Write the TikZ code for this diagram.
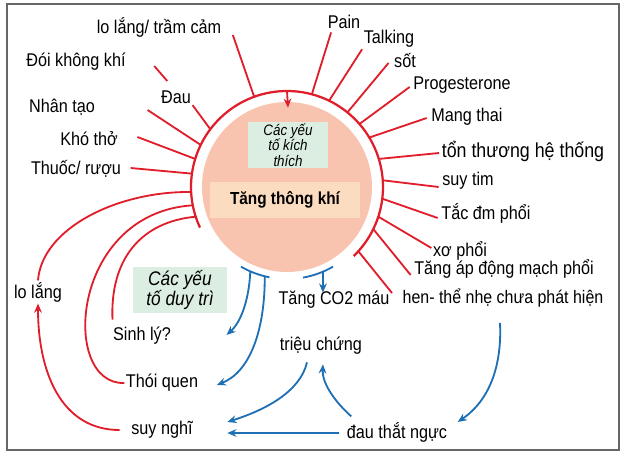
\documentclass[tikz,border=0pt]{standalone}
\usepackage{fontspec}
\setmainfont{Liberation Sans}[FakeStretch=0.88]
\usetikzlibrary{arrows.meta,calc}

\definecolor{spokered}{HTML}{E01E2B}
\definecolor{loopblue}{HTML}{1F6FB4}
\definecolor{ballfill}{HTML}{F8C4B0}
\definecolor{boxpeach}{HTML}{FCDCC0}
\definecolor{boxgreen}{HTML}{DCEDE2}
\definecolor{bordergray}{HTML}{666666}

\tikzset{
    lbl/.style={inner sep=1pt, font=\fontsize{13.1}{14}\selectfont},
    spoke/.style={spokered, line width=1.3pt},
    redarr/.style={spokered, line width=1.3pt, -{Stealth[length=6.5pt,width=5.5pt]}},
    bluearr/.style={loopblue, line width=1.3pt, -{Stealth[length=6.5pt,width=5.5pt]}},
    blueline/.style={loopblue, line width=1.3pt},
}

\begin{document}
\begin{tikzpicture}[x=0.025cm, y=-0.025cm]
        \useasboundingbox (0, 0) rectangle (625, 453);
        \draw[bordergray, line width=1.4pt] (7, 4) rectangle (619, 450);

        \coordinate (c) at (287, 187);
        \fill[ballfill] (c) circle[radius=85];
        \draw[spokered, line width=1.6pt] ($(c)+(46:96)$) arc[start angle=46, end angle=-205, radius=96];

        \node (kich) at (288, 145) [fill=boxgreen, minimum width=2cm, minimum height=1.15cm, inner sep=0pt, align=center, font=\fontsize{10.8}{11}\selectfont\itshape] {Các yếu\\tố kích\\thích};
        \node (tang) at (285, 200) [fill=boxpeach, minimum width=3.75cm, minimum height=0.9cm, font=\fontsize{12.4}{13}\selectfont\bfseries] {Tăng thông khí};
        \draw[redarr] ($(c)+(-90:96)$) -- ($(kich.north)+(0,-14)$);

        \node (lotram) at (159, 27) [lbl] {lo lắng/ trầm cảm};
        \node (doi) at (76, 62) [lbl] {Đói không khí};
        \node (dau) at (176, 97) [lbl] {Đau};
        \node (nhantao) at (62, 107) [lbl] {Nhân tạo};
        \node (khotho) at (89, 139) [lbl] {Khó thở};
        \node (thuoc) at (76, 169) [lbl] {Thuốc/ rượu};

        \node (pain) at (344, 22) [lbl] {Pain};
        \node (talking) at (389, 39) [lbl] {Talking};
        \node (sot) at (405, 61) [lbl] {sốt};
        \node (proge) at (462, 85) [lbl] {Progesterone};
        \node (mang) at (467, 117) [lbl] {Mang thai};
        \node (tont) at (523, 151) [lbl, font=\fontsize{14.4}{15}\selectfont] {tổn thương hệ thống};
        \node (suytim) at (468, 181) [lbl] {suy tim};
        \node (tac) at (486, 213) [lbl] {Tắc đm phổi};
        \node (xo) at (460, 251) [lbl] {xơ phổi};
        \node (tangap) at (504, 269) [lbl] {Tăng áp động mạch phổi};
        \node (hen) at (503, 298) [lbl, font=\fontsize{12.9}{14}\selectfont] {hen- thể nhẹ chưa phát hiện};

        \node (lolang) at (38, 292) [lbl] {lo lắng};
        \node (sinhly) at (142, 336) [lbl] {Sinh lý?};
        \node (thoiquen) at (162, 383) [lbl] {Thói quen};
        \node (suynghi) at (162, 430) [lbl] {suy nghĩ};
        \node (duytri) at (180, 290) [fill=boxgreen, minimum width=2.35cm, minimum height=1.15cm, inner sep=0pt, align=center, font=\fontsize{14}{13.5}\selectfont\itshape] {Các yếu\\tố duy trì};
        \node (co2) at (334, 300) [lbl] {Tăng CO2 máu};
        \node (trieu) at (321, 346) [lbl] {triệu chứng};
        \node (dauthat) at (397, 432) [lbl] {đau thắt ngực};

        \coordinate (doi-a) at ($(doi.east)+(27,4)$);
        \coordinate (doi-b) at ($(doi.east)+(40,19)$);
        \draw[spoke] (doi-a) -- (doi-b);

        \draw[spoke] ($(lotram.east)+(10,8)$) -- ($(c)+(-110:96)$);
        \draw[spoke] (dau.south east) -- ($(c)+(-143:96)$);
        \draw[spoke] ($(nhantao.east)+(51,3)$) -- ($(c)+(-154:96)$);
        \draw[spoke] ($(khotho.east)+(18,-2)$) -- ($(c)+(-163:96)$);
        \draw[spoke] ($(thuoc.east)+(8,-1)$) -- ($(c)+(-172:96)$);

        \draw[spoke] ($(pain.south west)+(5,2)$) -- ($(c)+(-75:96)$);
        \draw[spoke] (talking.south west) -- ($(c)+(-64:96)$);
        \draw[spoke] ($(sot.west)+(-4,2)$) -- ($(c)+(-51:96)$);
        \draw[spoke] ($(proge.west)+(-2,2)$) -- ($(c)+(-41:96)$);
        \draw[spoke] ($(mang.west)+(-3,1)$) -- ($(c)+(-31:96)$);
        \draw[spoke] ($(tont.west)+(-1,2)$) -- ($(c)+(-17:96)$);
        \draw[spoke] ($(suytim.west)+(-2,6)$) -- ($(c)+(-4:96)$);
        \draw[spoke] ($(tac.west)+(-2,5)$) -- ($(c)+(7:96)$);
        \draw[spoke] ($(xo.west)+(0,-3)$) -- ($(c)+(18:96)$);
        \draw[spoke] ($(tangap.west)+(-2,6)$) -- ($(c)+(26:96)$);
        \draw[spoke] ($(hen.west)+(-9,-5)$) -- ($(c)+(42:96)$);

        \draw[spoke] (lolang.north) .. controls (42, 228) and (118, 191) .. ($(c)+(-183:96)$);
        \draw[spoke] (thoiquen.west) .. controls (60, 385) and (70, 213) .. ($(c)+(-191:96)$);
        \draw[spoke] ($(sinhly.north west)+(1,-6)$) .. controls (110, 260) and (140, 222) .. ($(c)+(-198:96)$);
        \draw[redarr] ($(suynghi.west)+(-10,0)$) .. controls (60, 430) and (38, 370) .. (lolang.south);

        \coordinate (tbar-r) at ($(c)+(67:92)$);
        \draw[blueline] ($(c)+(120:92)$) arc[start angle=120, end angle=101, radius=92];
        \draw[blueline] ($(c)+(80:92)$) arc[start angle=80, end angle=60, radius=92];
        \draw[bluearr] ($(c)+(113.5:92)$) .. controls (249, 300) and (241, 322) .. ($(sinhly.east)+(54,-1)$);
        \draw[bluearr] ($(c)+(104:92)$) .. controls (265, 330) and (250, 372) .. ($(thoiquen.east)+(17,2)$);
        \draw[bluearr] (tbar-r) -- ($(co2.north -| tbar-r)+(0,3)$);

        \draw[bluearr] ($(trieu.south)+(-14,6)$) .. controls (300, 392) and (265, 410) .. ($(suynghi.east)+(33,-8)$);
        \draw[bluearr] ($(dauthat.west)+(-6,1)$) -- ($(suynghi.east)+(33,3)$);
        \draw[bluearr] ($(dauthat.north west)+(6,-4)$) .. controls (333, 400) and (322, 382) .. ($(trieu.south)+(2,8)$);
        \draw[bluearr] ($(hen.south)+(-3,14)$) .. controls (502, 365) and (490, 400) .. ($(dauthat.east)+(9,-10)$);

    \end{tikzpicture}
\end{document}
